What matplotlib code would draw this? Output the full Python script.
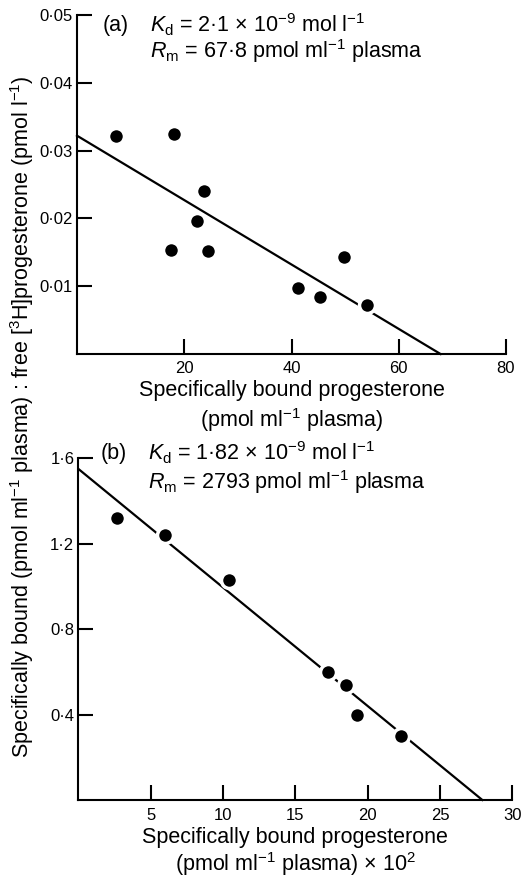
import numpy as np
import matplotlib
matplotlib.use("Agg")
import matplotlib.pyplot as plt

plt.rcParams['font.family'] = ['Liberation Sans', 'DejaVu Sans']
plt.rcParams['mathtext.fontset'] = 'custom'
plt.rcParams['mathtext.rm'] = 'Liberation Sans'
plt.rcParams['mathtext.it'] = 'Liberation Sans:italic'

# panel (a)
a_x = [7.2, 18.1, 23.6, 22.3, 17.6, 24.4, 49.8, 41.2, 45.3, 54.0]
a_y = [0.0321, 0.0324, 0.0240, 0.0196, 0.0153, 0.0152, 0.0143, 0.0098, 0.0084, 0.0073]
a_line_x = [0, 67.8]
a_line_y = [0.0322, 0]
a_xticks = [20, 40, 60, 80]
a_yticks = [0.01, 0.02, 0.03, 0.04, 0.05]
a_yticklabels = ['0·01', '0·02', '0·03', '0·04', '0·05']

# panel (b)
b_x = [2.7, 6.0, 10.4, 17.25, 18.5, 19.25, 22.3]
b_y = [1.32, 1.24, 1.03, 0.60, 0.54, 0.40, 0.30]
b_line_x = [0, 27.93]
b_line_y = [1.55, 0]
b_xticks = [5, 10, 15, 20, 25, 30]
b_yticks = [0.4, 0.8, 1.2, 1.6]
b_yticklabels = ['0·4', '0·8', '1·2', '1·6']

FS = 15.5

fig = plt.figure(figsize=(5.3, 8.82), dpi=100)
ax1 = fig.add_axes([0.1453, 0.5986, 0.8094, 0.3844])
ax2 = fig.add_axes([0.148, 0.0930, 0.8185, 0.3874])


def style(ax, xlim, ylim, xt, yt, ytl, xpad):
    ax.set_xlim(*xlim)
    ax.set_ylim(*ylim)
    for s in ['top', 'right']:
        ax.spines[s].set_visible(False)
    for s in ['left', 'bottom']:
        ax.spines[s].set_linewidth(1.5)
    ax.set_xticks(xt)
    ax.set_xticklabels([str(t) for t in xt])
    ax.set_yticks(yt)
    ax.set_yticklabels(ytl)
    ax.tick_params(direction='in', length=11, width=1.5, labelsize=12, pad=3)
    ax.tick_params(axis='x', pad=xpad)


def draw(ax, x, y, lx, ly):
    ax.plot(lx, ly, color='black', lw=1.6, clip_on=False)
    ax.plot(x, y, 'o', color='black', markersize=11.5, markeredgecolor='white',
            markeredgewidth=2.5, clip_on=False, zorder=3)


draw(ax1, a_x, a_y, a_line_x, a_line_y)
style(ax1, (0, 80), (0, 0.05), a_xticks, a_yticks, a_yticklabels, 5)
ax1.set_xlabel('Specifically bound progesterone\n(pmol ml$^{-1}$ plasma)',
               fontsize=FS, linespacing=1.25, labelpad=3)
ax1.text(0.06, 0.97, '(a)', transform=ax1.transAxes, fontsize=FS, va='center')
ax1.text(0.17, 0.97, '$K_\\mathrm{d}$ = 2·1 × 10$^{-9}$ mol l$^{-1}$',
         transform=ax1.transAxes, fontsize=FS, va='center')
ax1.text(0.17, 0.893, '$R_\\mathrm{m}$ = 67·8 pmol ml$^{-1}$ plasma',
         transform=ax1.transAxes, fontsize=FS, va='center')

draw(ax2, b_x, b_y, b_line_x, b_line_y)
style(ax2, (0, 30), (0, 1.6), b_xticks, b_yticks, b_yticklabels, 6)
ax2.set_xlabel('Specifically bound progesterone\n(pmol ml$^{-1}$ plasma) × 10$^{2}$',
               fontsize=FS, linespacing=1.1, labelpad=3)
ax2.text(0.05, 1.015, '(b)', transform=ax2.transAxes, fontsize=FS, va='center')
ax2.text(0.16, 1.015, '$K_\\mathrm{d}$ = 1·82 × 10$^{-9}$ mol l$^{-1}$',
         transform=ax2.transAxes, fontsize=FS, va='center')
ax2.text(0.16, 0.93, '$R_\\mathrm{m}$ = 2793 pmol ml$^{-1}$ plasma',
         transform=ax2.transAxes, fontsize=FS, va='center')

fig.text(0.042, 0.527,
         'Specifically bound (pmol ml$^{-1}$ plasma) : free [$^{3}$H]progesterone (pmol l$^{-1}$)',
         rotation=90, fontsize=FS, ha='center', va='center')

fig.savefig('out.png', dpi=100)
